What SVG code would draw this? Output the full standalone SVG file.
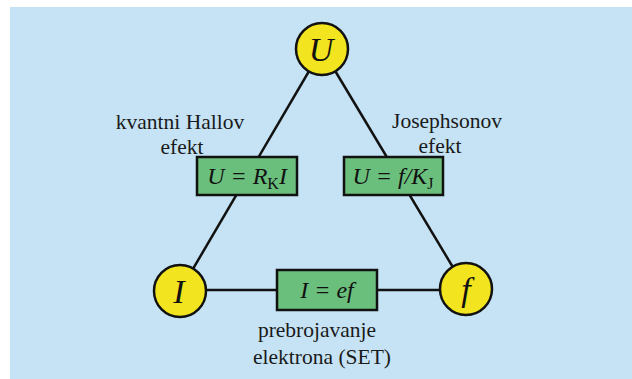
<svg xmlns="http://www.w3.org/2000/svg" width="632" height="379" viewBox="0 0 632 379">
<style>
.lbl{font-family:"Liberation Serif","Times New Roman","DejaVu Serif",serif;font-size:21.5px;fill:#1a1a1a;text-anchor:middle}
.var{font-family:"Liberation Serif","Times New Roman",serif;font-style:italic;font-size:34px;fill:#111;text-anchor:middle}
.eq{font-family:"Liberation Serif","Times New Roman",serif;font-style:italic;font-size:24px;fill:#111;text-anchor:middle}
.sub{font-style:normal;font-size:16px}
.node circle{fill:#f2e41e;stroke:#111;stroke-width:2.5}
.box rect{fill:#6bbf7d;stroke:#111;stroke-width:2.5}
.conn line{stroke:#111;stroke-width:2.5}
</style>
<rect x="0" y="0" width="632" height="379" fill="#ffffff"/>
<rect x="10" y="7" width="622" height="372" fill="#c5e3f4"/>
<g id="connectors" class="conn">
<line x1="322" y1="49" x2="180" y2="291"/>
<line x1="322" y1="49" x2="466" y2="289"/>
<line x1="180" y1="290" x2="466" y2="290"/>
</g>
<g id="box-hall" class="box">
<rect x="197" y="157" width="100" height="38"/>
<text class="eq" x="247" y="184">U = R<tspan class="sub" dy="5">K</tspan><tspan dy="-5">I</tspan></text>
</g>
<g id="box-josephson" class="box">
<rect x="344" y="157" width="99" height="38"/>
<text class="eq" x="393" y="184">U = f/K<tspan class="sub" dy="5">J</tspan></text>
</g>
<g id="box-set" class="box">
<rect x="277" y="270" width="100" height="40"/>
<text class="eq" x="327" y="298">I = ef</text>
</g>
<g id="node-U" class="node">
<circle cx="322" cy="49" r="26"/>
<text class="var" x="321" y="61">U</text>
</g>
<g id="node-I" class="node">
<circle cx="180" cy="291" r="26"/>
<text class="var" x="179" y="303">I</text>
</g>
<g id="node-f" class="node">
<circle cx="466" cy="289" r="26"/>
<text class="var" x="466" y="301">f</text>
</g>
<g id="labels">
<text class="lbl" x="180" y="129">kvantni Hallov</text>
<text class="lbl" x="182" y="154">efekt</text>
<text class="lbl" x="447" y="128">Josephsonov</text>
<text class="lbl" x="440" y="153">efekt</text>
<text class="lbl" x="317" y="337">prebrojavanje</text>
<text class="lbl" x="322" y="364">elektrona (SET)</text>
</g>
</svg>
